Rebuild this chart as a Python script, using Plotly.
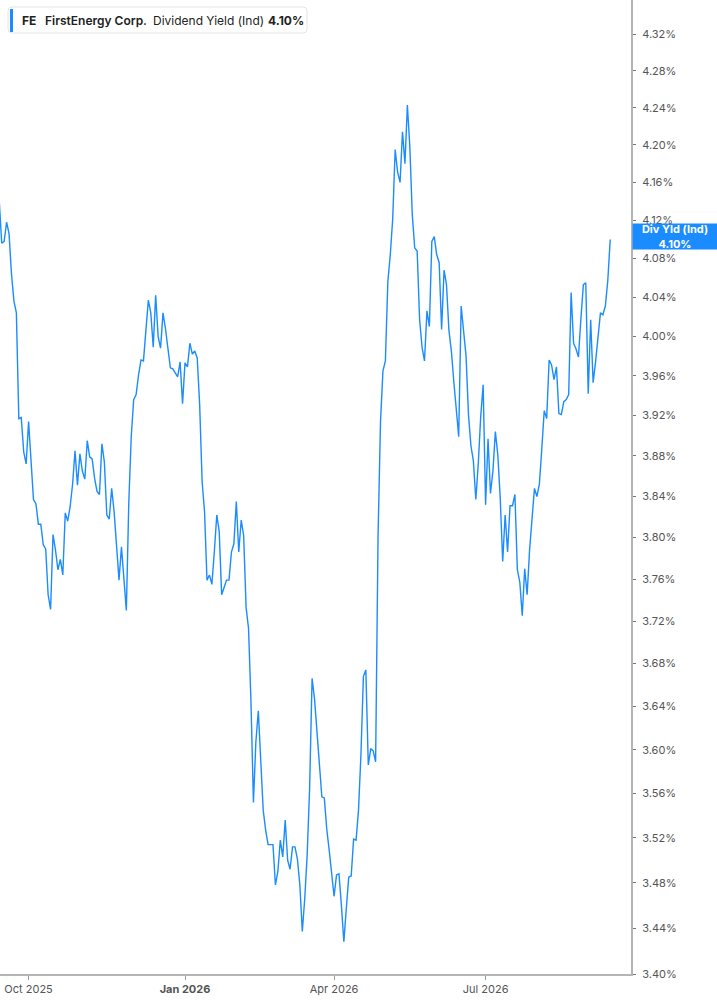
import math
import pandas as pd
import plotly.graph_objects as go

# trading days, Sep 15 2025 -> Sep 14 2026 (US market holidays removed)
holidays = ["2025-11-27", "2025-12-25", "2026-01-01", "2026-01-19", "2026-02-16",
            "2026-04-03", "2026-05-25", "2026-06-19", "2026-07-03", "2026-09-07"]
dates = pd.bdate_range("2025-09-15", "2026-09-14", freq="C", holidays=holidays)
dates = [d.strftime("%Y-%m-%d") for d in dates]

# dividend yield (%)
div_yield = [
    4.140, 4.096, 4.098, 4.118, 4.106, 4.064, 4.036, 4.024, 3.917, 3.918,
    3.884, 3.872, 3.914, 3.874, 3.837, 3.833, 3.813, 3.813, 3.793, 3.789,
    3.745, 3.731, 3.803, 3.788, 3.769, 3.779, 3.764, 3.824, 3.816, 3.830,
    3.852, 3.885, 3.851, 3.882, 3.865, 3.857, 3.895, 3.879, 3.877, 3.858,
    3.845, 3.842, 3.892, 3.874, 3.822, 3.818, 3.848, 3.825, 3.793, 3.759,
    3.791, 3.756, 3.730, 3.834, 3.899, 3.936, 3.941, 3.961, 3.976, 3.975,
    4.007, 4.037, 4.024, 3.989, 4.042, 4.000, 3.988, 4.024, 4.008, 3.987,
    3.968, 3.967, 3.963, 3.959, 3.974, 3.932, 3.973, 3.969, 3.993, 3.982,
    3.985, 3.978, 3.931, 3.855, 3.825, 3.759, 3.764, 3.755, 3.786, 3.822,
    3.806, 3.745, 3.752, 3.759, 3.759, 3.786, 3.794, 3.835, 3.786, 3.817,
    3.802, 3.733, 3.713, 3.644, 3.552, 3.607, 3.636, 3.589, 3.545, 3.527,
    3.514, 3.514, 3.514, 3.478, 3.490, 3.518, 3.503, 3.536, 3.500, 3.492,
    3.512, 3.512, 3.501, 3.478, 3.437, 3.466, 3.505, 3.565, 3.666, 3.647,
    3.618, 3.589, 3.557, 3.556, 3.528, 3.509, 3.490, 3.468, 3.487, 3.488,
    3.460, 3.428, 3.457, 3.485, 3.486, 3.519, 3.518, 3.545, 3.596, 3.668,
    3.674, 3.586, 3.601, 3.599, 3.589, 3.802, 3.914, 3.965, 3.975, 4.056,
    4.084, 4.122, 4.195, 4.171, 4.160, 4.214, 4.180, 4.243, 4.198, 4.126,
    4.091, 4.088, 4.017, 3.989, 3.975, 4.026, 4.010, 4.098, 4.103, 4.084,
    4.076, 4.007, 4.068, 4.053, 4.006, 3.985, 3.954, 3.928, 3.899, 4.031,
    4.008, 3.980, 3.921, 3.890, 3.875, 3.837, 3.872, 3.919, 3.951, 3.832,
    3.897, 3.843, 3.865, 3.904, 3.881, 3.838, 3.777, 3.822, 3.786, 3.831,
    3.831, 3.842, 3.769, 3.757, 3.725, 3.770, 3.745, 3.788, 3.818, 3.848,
    3.840, 3.852, 3.887, 3.925, 3.917, 3.976, 3.971, 3.956, 3.969, 3.922,
    3.921, 3.934, 3.936, 3.941, 4.045, 3.993, 3.987, 3.979, 4.018, 4.053,
    4.055, 3.942, 4.017, 3.953, 3.974, 4.002, 4.024, 4.022, 4.031, 4.057,
    4.100,
]

x_tick_dates = ["2025-10-01", "2026-01-02", "2026-04-01", "2026-07-01"]
x_tick_labels = ["Oct 2025", "<b>Jan 2026</b>", "Apr 2026", "Jul 2026"]

y_ticks = [3.40, 3.44, 3.48, 3.52, 3.56, 3.60, 3.64, 3.68, 3.72, 3.76, 3.80, 3.84,
           3.88, 3.92, 3.96, 4.00, 4.04, 4.08, 4.12, 4.16, 4.20, 4.24, 4.28, 4.32]
y_tick_labels = [f"{v:.2f}%" for v in y_ticks]

last_val = div_yield[-1]
BLUE = "#1a8cff"
FONT = "Inter"

fig = go.Figure()
fig.add_trace(go.Scatter(
    x=dates, y=div_yield, mode="lines",
    line=dict(color=BLUE, width=1.4),
    hoverinfo="skip", showlegend=False,
))

fig.update_xaxes(
    type="category",
    range=[0.3, 258.5],
    tickmode="array", tickvals=x_tick_dates, ticktext=x_tick_labels,
    showgrid=False, zeroline=False,
    showline=True, linecolor="#b4b4b4", linewidth=2,
    ticks="outside", ticklen=4, tickcolor="#9a9a9a", tickwidth=1,
    tickfont=dict(family=FONT, size=11, color="#555555"),
)
fig.update_yaxes(
    type="log", side="right",
    range=[math.log10(3.40), math.log10(4.358)],
    tickmode="array", tickvals=y_ticks, ticktext=y_tick_labels,
    showgrid=False, zeroline=False,
    showline=True, linecolor="#b4b4b4", linewidth=2,
    ticks="outside", ticklen=3, tickcolor="#777777", tickwidth=1,
    ticklabelstandoff=4,
    tickfont=dict(family=FONT, size=11, color="#555555"),
)

# header box top-left
box = ("M 12,-7 L 303,-7 Q 307,-7 307,-11 L 307,-29 Q 307,-33 303,-33 "
       "L 12,-33 Q 8,-33 8,-29 L 8,-11 Q 8,-7 12,-7 Z")
fig.add_shape(type="path", path=box, xref="paper", yref="paper",
              xsizemode="pixel", ysizemode="pixel", xanchor=0, yanchor=1,
              line=dict(color="#e4e4e4", width=1), fillcolor="white")
fig.add_shape(type="rect", x0=10, x1=13, y0=-9, y1=-32, xref="paper", yref="paper",
              xsizemode="pixel", ysizemode="pixel", xanchor=0, yanchor=1,
              line=dict(width=0), fillcolor=BLUE)

header = [
    ("FE", 20, "bold"),
    ("FirstEnergy Corp.", 43, 600),
    ("Dividend Yield (Ind)", 151, "normal"),
    (f"{last_val:.2f}%", 266, "bold"),
]
for txt, xs, w in header:
    fig.add_annotation(
        text=txt, xref="paper", yref="paper", x=0, y=1,
        xanchor="left", yanchor="middle", xshift=xs, yshift=-20,
        showarrow=False,
        font=dict(family=FONT, size=12, color="#222222", weight=w),
    )

# last value tag on the right axis
fig.add_annotation(
    text=f"<b>Div Yld (Ind)<br>{last_val:.2f}%</b>",
    xref="paper", yref="y", x=1, y=math.log10(last_val),
    xanchor="left", yanchor="middle", xshift=1, yshift=3,
    showarrow=False, align="center",
    width=84, height=25, borderpad=0, bgcolor=BLUE,
    font=dict(family=FONT, size=11, color="white"),
)

fig.update_layout(
    width=717, height=1005,
    margin=dict(l=0, r=86, t=0, b=31),
    paper_bgcolor="white", plot_bgcolor="white",
    font=dict(family=FONT),
)

fig.write_html("out.html", config={"displayModeBar": False},
               post_script="document.body.style.margin='0px';")
